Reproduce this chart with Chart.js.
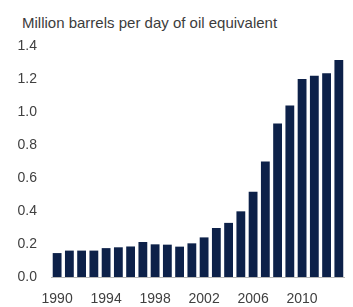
<!DOCTYPE html>
<html>
<head>
<meta charset="utf-8">
<script src="https://cdn.jsdelivr.net/npm/chart.js@4"></script>
<style>
  html, body { margin: 0; padding: 0; background: #fff; }
  #wrap { position: relative; width: 353px; height: 307px; }
  #title {
    position: absolute; left: 22px; top: 15px;
    font: 15px "Liberation Sans", Arial, sans-serif; line-height: 15px;
    color: #3c3c3c; white-space: nowrap;
  }
  canvas { position: absolute; left: 0; top: 0; }
</style>
</head>
<body>
<div id="wrap">
  <div id="title">Million barrels per day of oil equivalent</div>
  <canvas id="chart" width="353" height="307"></canvas>
</div>
<script>
const years = ["1990", "1991", "1992", "1993", "1994", "1995", "1996", "1997",
               "1998", "1999", "2000", "2001", "2002", "2003", "2004", "2005",
               "2006", "2007", "2008", "2009", "2010", "2011", "2012", "2013"];
const shownYears = ["1990", "1994", "1998", "2002", "2006", "2010"];
const production = [0.145, 0.16, 0.16, 0.16, 0.175, 0.18, 0.185, 0.212,
                    0.198, 0.196, 0.184, 0.204, 0.24, 0.297, 0.328, 0.398,
                    0.517, 0.70, 0.93, 1.04, 1.20, 1.22, 1.235, 1.315];
const yTicks = [0, 0.2, 0.4, 0.6, 0.8, 1.0, 1.2, 1.4];

const tickFont = { family: "'Liberation Sans', Arial, sans-serif", size: 14 };

new Chart(document.getElementById("chart").getContext("2d"), {
  type: "bar",
  data: {
    labels: years,
    datasets: [{
      data: production,
      backgroundColor: "#0d2149",
      barPercentage: 0.72,
      categoryPercentage: 1.0
    }]
  },
  options: {
    responsive: false,
    animation: false,
    layout: { autoPadding: false, padding: { top: 46, left: 17, right: 8, bottom: 0 } },
    plugins: { legend: { display: false }, tooltip: { enabled: false } },
    scales: {
      x: {
        grid: { display: true, drawOnChartArea: false, drawTicks: false },
        border: { display: true, color: "#b8b8b8", width: 1 },
        afterFit: axis => { axis.height = 30; },
        ticks: {
          color: "#404040", font: tickFont, padding: 14,
          autoSkip: false, maxRotation: 0,
          callback: function (v, i) {
            const y = years[i];
            return shownYears.includes(y) ? y : "";
          }
        }
      },
      y: {
        min: 0, max: 1.4,
        grid: { display: false, drawTicks: false },
        border: { display: false },
        afterBuildTicks: axis => { axis.ticks = yTicks.map(v => ({ value: v })); },
        afterFit: axis => { axis.width = 34; },
        ticks: {
          color: "#404040", font: tickFont, padding: 14,
          callback: v => Number(v).toFixed(1)
        }
      }
    }
  }
});
</script>
</body>
</html>
